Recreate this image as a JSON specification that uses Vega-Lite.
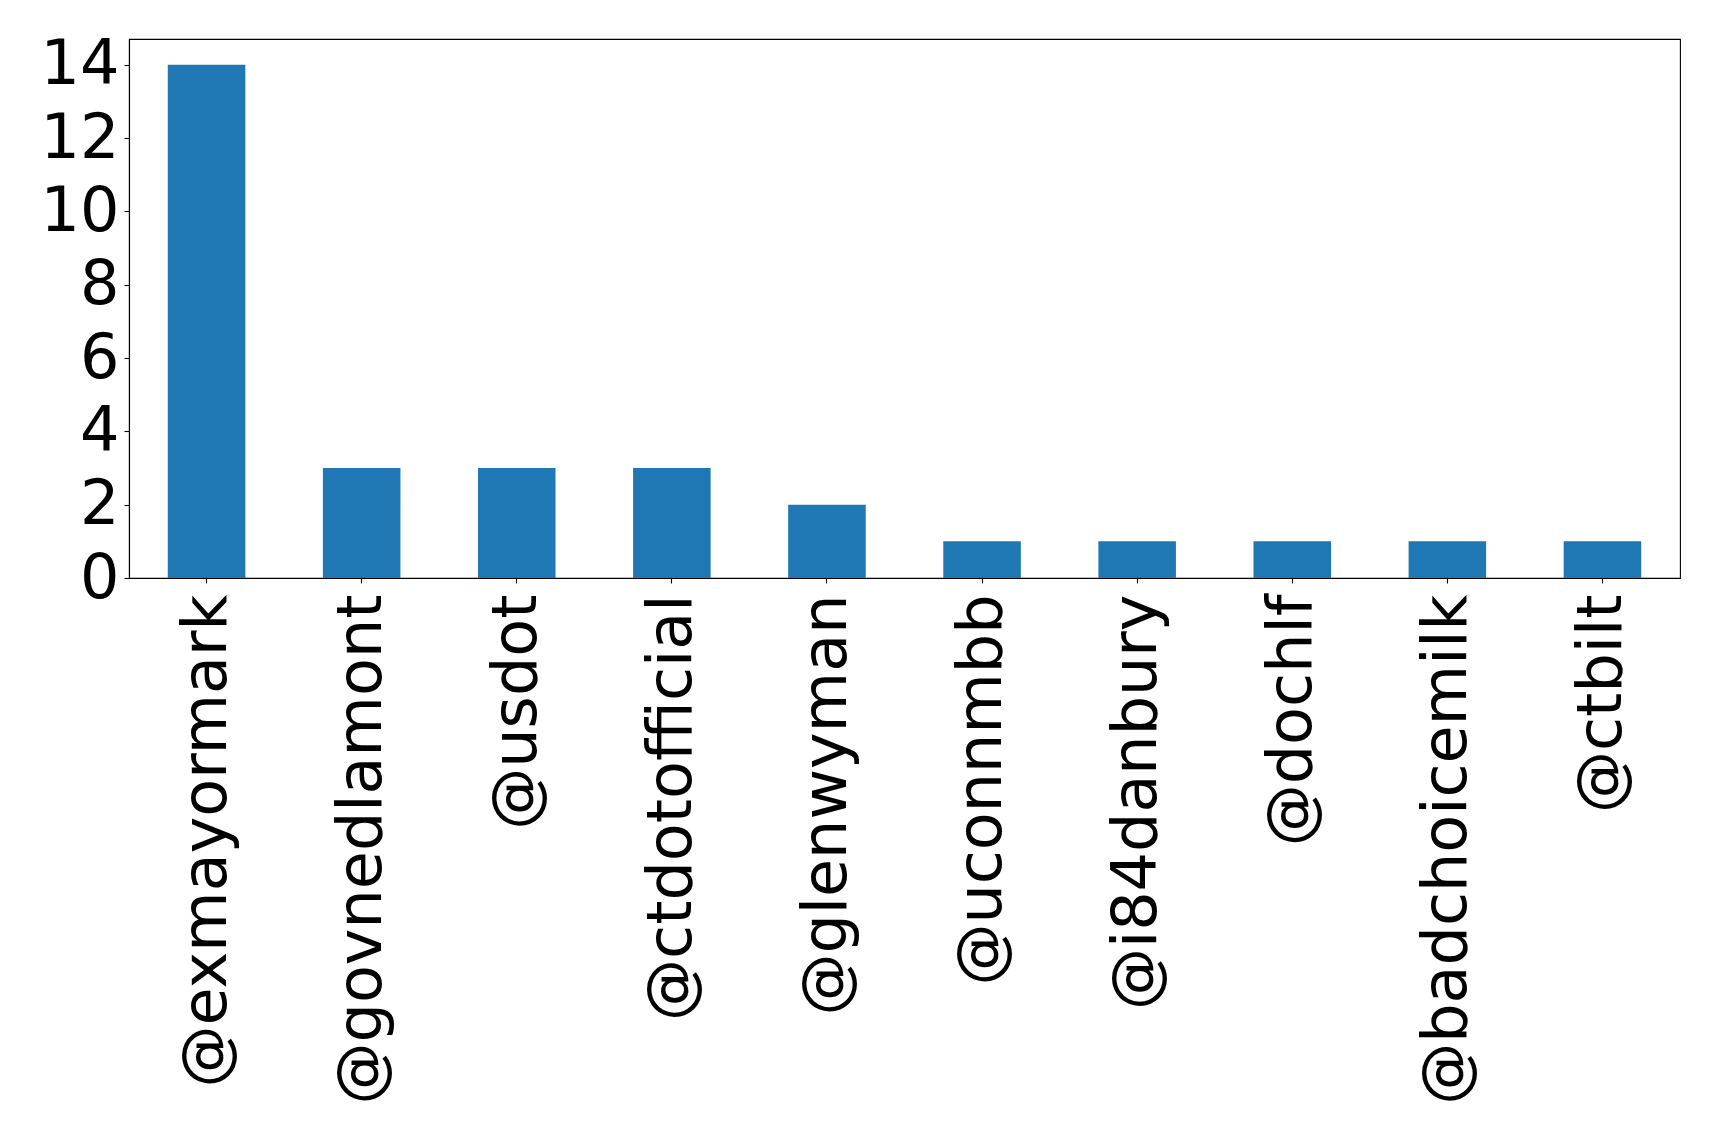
{
  "$schema": "https://vega.github.io/schema/vega-lite/v6.json",
  "width": 1551,
  "height": 539,
  "autosize": {"type": "none"},
  "padding": {"left": 129, "top": 39, "right": 39, "bottom": 564},
  "background": "white",
  "config": {
    "view": {"stroke": "black", "strokeWidth": 1.1},
    "axis": {
      "domainColor": "black",
      "domainWidth": 1.1,
      "tickColor": "black",
      "tickWidth": 1.1,
      "tickSize": 5,
      "labelColor": "black",
      "labelFont": "DejaVu Sans",
      "labelFontSize": 62,
      "grid": false,
      "title": null
    }
  },
  "data": {
    "values": [
      {"handle": "@exmayormark", "count": 14},
      {"handle": "@govnedlamont", "count": 3},
      {"handle": "@usdot", "count": 3},
      {"handle": "@ctdotofficial", "count": 3},
      {"handle": "@glenwyman", "count": 2},
      {"handle": "@uconnmbb", "count": 1},
      {"handle": "@i84danbury", "count": 1},
      {"handle": "@dochlf", "count": 1},
      {"handle": "@badchoicemilk", "count": 1},
      {"handle": "@ctbilt", "count": 1}
    ]
  },
  "mark": {"type": "bar", "color": "#1f77b4"},
  "encoding": {
    "x": {
      "field": "handle",
      "type": "nominal",
      "sort": null,
      "scale": {"paddingInner": 0.5, "paddingOuter": 0.25},
      "axis": {"labelAngle": -90, "labelPadding": 11, "labelOverlap": false, "labelLimit": 0}
    },
    "y": {
      "field": "count",
      "type": "quantitative",
      "scale": {"domain": [0, 14.7], "nice": false, "zero": true},
      "axis": {"values": [0, 2, 4, 6, 8, 10, 12, 14], "labelPadding": 5, "labelOverlap": false}
    }
  }
}
